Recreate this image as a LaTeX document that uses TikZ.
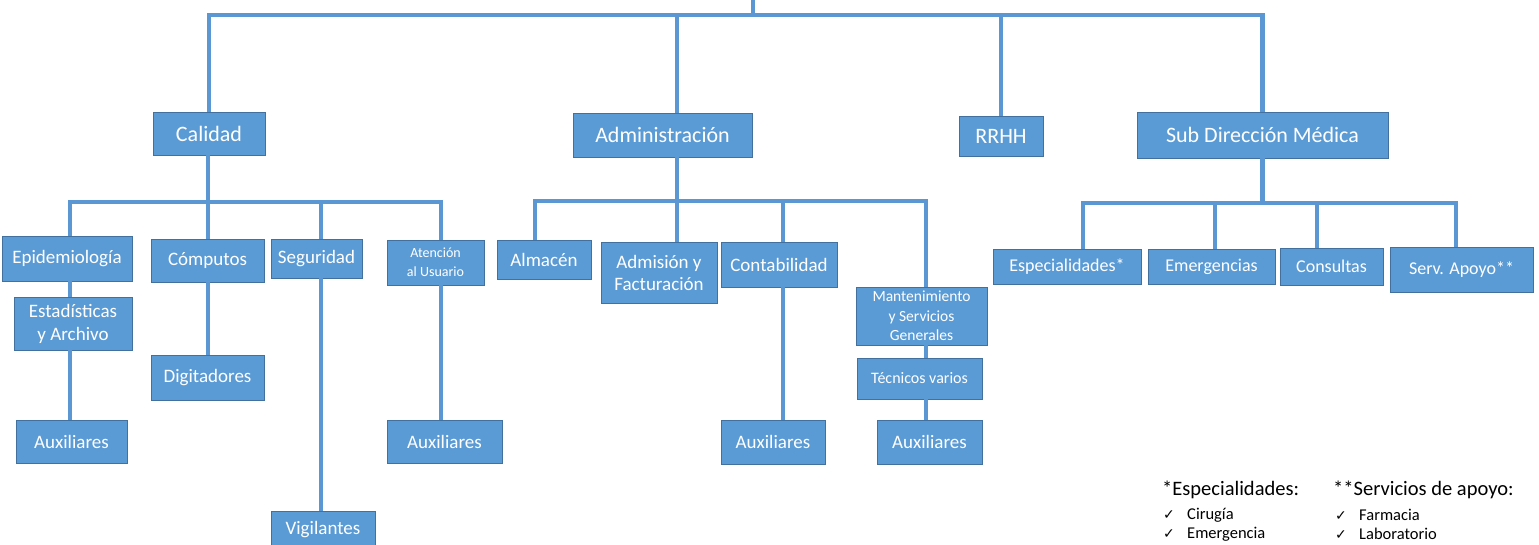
\documentclass[tikz,border=0pt]{standalone}
\usepackage{fontspec}
\setmainfont{Carlito}
\newfontfamily\dejavu{DejaVu Sans}
\definecolor{boxblue}{HTML}{5B9BD5}
\definecolor{boxedge}{HTML}{41719C}
\definecolor{lineblue}{HTML}{5B97D2}
\newcommand{\chk}{\makebox[24pt][l]{\dejavu\fontsize{14}{14}\selectfont ✓}}
\begin{document}
\begin{tikzpicture}[x=1pt,y=-1pt,
  box/.style={rectangle, fill=boxblue, draw=boxedge, line width=0.8pt, text=white,
    align=center, inner sep=0pt, font=\fontsize{19}{22}\selectfont},
  big/.style={font=\fontsize{22}{24}\selectfont},
  conn/.style={draw=lineblue, line width=4.5pt, line join=miter},
  note/.style={anchor=base west, inner sep=0pt, font=\fontsize{20.5}{22}\selectfont},
  item/.style={anchor=base west, inner sep=0pt, font=\fontsize{16.5}{18}\selectfont}]
\useasboundingbox (0,0) rectangle (1539,544);
\clip (0,0) rectangle (1539,544);
\fill[white] (0,0) rectangle (1539,544);

% level 1
\node[box, big, minimum width=112pt, minimum height=43pt] (calidad) at (209,133.5) {Calidad};
\node[box, big, minimum width=179pt, minimum height=44pt] (admin) at (662.5,135) {Administración};
\node[box, big, minimum width=84pt, minimum height=40pt] (rrhh) at (1001,136) {RRHH};
\node[box, big, minimum width=251pt, minimum height=46pt] (sdm) at (1262.5,135) {Sub Dirección Médica};

% Calidad branch
\node[box, minimum width=130pt, minimum height=45pt] (epi) at (67,258.5) {Epidemiología};
\node[box, minimum width=113pt, minimum height=43pt] (comp) at (207.5,260.5) {Cómputos};
\node[box, minimum width=91pt, minimum height=39pt] (seg) at (316.5,258.5) {Seguridad};
\node[box, minimum width=97pt, minimum height=45pt, font=\fontsize{14}{19}\selectfont] (aten) at (435.5,262.5) {Atención\\al Usuario};
\node[box, minimum width=118pt, minimum height=53pt, font=\fontsize{19}{23}\selectfont] (est) at (73,323.5) {Estadísticas\\y Archivo};
\node[box, minimum width=111pt, minimum height=43pt] (aux1) at (71.5,441.5) {Auxiliares};
\node[box, minimum width=113pt, minimum height=45pt] (dig) at (207.5,377.5) {Digitadores};
\node[box, minimum width=104pt, minimum height=37pt] (vig) at (323,529.5) {Vigilantes};
\node[box, minimum width=115pt, minimum height=43pt] (aux2) at (444.5,441.5) {Auxiliares};

% Administracion branch
\node[box, minimum width=94pt, minimum height=39pt] (alm) at (544,259.5) {Almacén};
\node[box, minimum width=116pt, minimum height=61pt, font=\fontsize{19}{22}\selectfont] (adm) at (659,272.5) {Admisión y\\Facturación};
\node[box, minimum width=116pt, minimum height=45pt] (cont) at (779,264.5) {Contabilidad};
\node[box, minimum width=131pt, minimum height=58pt, font=\fontsize{15.5}{19.5}\selectfont] (mant) at (921.5,316) {Mantenimiento\\y Servicios\\Generales};
\node[box, minimum width=125pt, minimum height=41pt, font=\fontsize{16}{18}\selectfont] (tec) at (919.5,378.5) {Técnicos varios};
\node[box, minimum width=104pt, minimum height=44pt] (aux3) at (773,442) {Auxiliares};
\node[box, minimum width=105pt, minimum height=44pt] (aux4) at (929.5,442) {Auxiliares};

% Sub Direccion branch
\node[box, minimum width=148pt, minimum height=35pt, font=\fontsize{18}{20}\selectfont] (esp) at (1067,266.5) {Especialidades*};
\node[box, minimum width=127pt, minimum height=35pt, font=\fontsize{18}{20}\selectfont] (emer) at (1211.5,266.5) {Emergencias};
\node[box, minimum width=103pt, minimum height=37pt, font=\fontsize{18}{20}\selectfont] (cons) at (1331.5,266.5) {Consultas};
\node[box, minimum width=143pt, minimum height=45pt, font=\fontsize{18}{20}\selectfont] (serv) at (1461.5,269.5) {Serv. Apoyo**};

% coordinates
\coordinate (bar) at (0,15);
\coordinate (top) at (753,-5);
\coordinate (ax) at (677,0);
\coordinate (cbar) at (0,202);
\coordinate (abar) at (0,201);
\coordinate (sbar) at (0,203);
\coordinate (epix) at (70,0);
\coordinate (compx) at (208,0);
\coordinate (segx) at (321,0);
\coordinate (atenx) at (441,0);
\coordinate (almx) at (535,0);
\coordinate (contx) at (783,0);
\coordinate (mantx) at (926,0);
\coordinate (espx) at (1083,0);
\coordinate (emerx) at (1215,0);
\coordinate (consx) at (1317,0);
\coordinate (servx) at (1456,0);

% top level connectors
\draw[conn] (calidad.north) -- (calidad.north |- bar) -- (sdm.north |- bar) -- (sdm.north);
\draw[conn] (top) -- (top |- bar);
\draw[conn] (ax |- bar) -- (ax |- admin.north);
\draw[conn] (rrhh.north |- bar) -- (rrhh.north);

% Calidad connectors
\draw[conn] (compx |- calidad.south) -- (compx |- comp.north);
\draw[conn] (epix |- epi.north) -- (epix |- cbar) -- (atenx |- cbar) -- (atenx |- aten.north);
\draw[conn] (segx |- cbar) -- (segx |- seg.north);
\draw[conn] (epix |- epi.south) -- (epix |- est.north);
\draw[conn] (epix |- est.south) -- (epix |- aux1.north);
\draw[conn] (compx |- comp.south) -- (compx |- dig.north);
\draw[conn] (segx |- seg.south) -- (segx |- vig.north);
\draw[conn] (atenx |- aten.south) -- (atenx |- aux2.north);

% Administracion connectors
\draw[conn] (ax |- admin.south) -- (ax |- adm.north);
\draw[conn] (almx |- alm.north) -- (almx |- abar) -- (mantx |- abar) -- (mantx |- mant.north);
\draw[conn] (contx |- abar) -- (contx |- cont.north);
\draw[conn] (contx |- cont.south) -- (contx |- aux3.north);
\draw[conn] (mantx |- mant.south) -- (mantx |- tec.north);
\draw[conn] (mantx |- tec.south) -- (mantx |- aux4.north);

% Sub Direccion connectors
\draw[conn] (sdm.south) -- (sdm.south |- sbar);
\draw[conn] (espx |- esp.north) -- (espx |- sbar) -- (servx |- sbar) -- (servx |- serv.north);
\draw[conn] (emerx |- sbar) -- (emerx |- emer.north);
\draw[conn] (consx |- sbar) -- (consx |- cons.north);

% notes
\node[note] (n1) at (1162,495) {*Especialidades:};
\node[note] (n2) at (1333,495) {**Servicios de apoyo:};
\node[item] (i1) at (1163,519) {\chk Cirugía};
\node[item] (i2) at (1163,538) {\chk Emergencia};
\node[item] (i3) at (1335,520) {\chk Farmacia};
\node[item] (i4) at (1335,539) {\chk Laboratorio};
\end{tikzpicture}
\end{document}
